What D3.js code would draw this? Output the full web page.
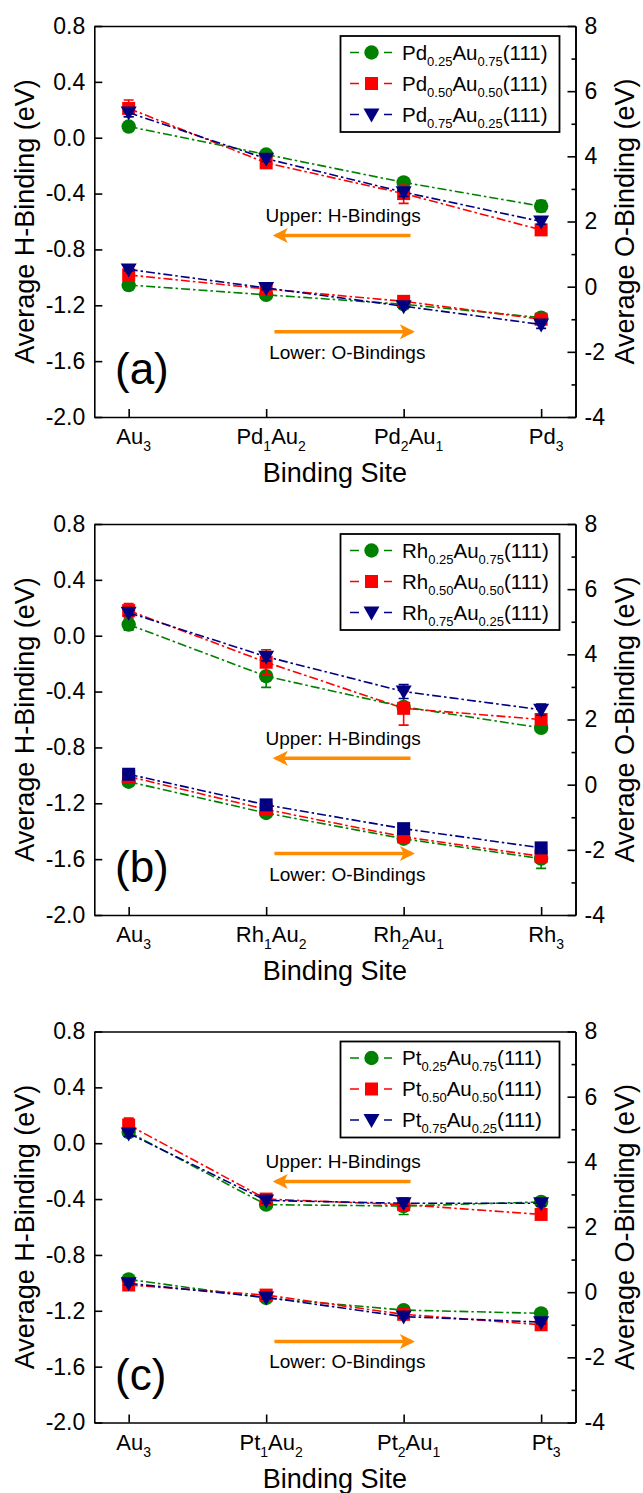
<!DOCTYPE html>
<html><head><meta charset="utf-8">
<script src="https://cdn.jsdelivr.net/npm/d3@7"></script>
<style>
body{margin:0;background:#fff}
svg{display:block}
text{font-family:"Liberation Sans",Arial,Helvetica,sans-serif;fill:#000}
</style>
</head><body>
<svg id="chart" width="643" height="1493"></svg>
<script>
// ---------------- DATA ----------------
const sitesPd = ["Au_3", "Pd_1Au_2", "Pd_2Au_1", "Pd_3"];
const sitesRh = ["Au_3", "Rh_1Au_2", "Rh_2Au_1", "Rh_3"];
const sitesPt = ["Au_3", "Pt_1Au_2", "Pt_2Au_1", "Pt_3"];

const legendPd = ["Pd_{0.25}Au_{0.75}(111)", "Pd_{0.50}Au_{0.50}(111)", "Pd_{0.75}Au_{0.25}(111)"];
const legendRh = ["Rh_{0.25}Au_{0.75}(111)", "Rh_{0.50}Au_{0.50}(111)", "Rh_{0.75}Au_{0.25}(111)"];
const legendPt = ["Pt_{0.25}Au_{0.75}(111)", "Pt_{0.50}Au_{0.50}(111)", "Pt_{0.75}Au_{0.25}(111)"];

const hTicks = [-2.0, -1.6, -1.2, -0.8, -0.4, 0.0, 0.4, 0.8];
const oTicks = [-4, -2, 0, 2, 4, 6, 8];
const oMinorTicks = [-3, -1, 1, 3, 5, 7];

// Panel (a) Pd-Au : H-binding (left axis, eV)
const hPd25 = [0.08, -0.12, -0.32, -0.49];
const hPd50 = [0.21, -0.18, -0.40, -0.66];
const hPd75 = [0.18, -0.15, -0.39, -0.60];
const hPd25Err = [0.02, 0.02, 0.02, 0.04];
const hPd50Err = [0.06, 0.03, 0.07, 0.03];
const hPd75Err = [0.03, 0.02, 0.03, 0.02];
// Panel (a) Pd-Au : O-binding (right axis, eV)
const oPd25 = [0.05, -0.25, -0.54, -0.95];
const oPd50 = [0.36, -0.07, -0.45, -1.00];
const oPd75 = [0.53, -0.04, -0.60, -1.16];
const oPd25Err = [0.05, 0.08, 0.05, 0.08];
const oPd50Err = [0.05, 0.05, 0.08, 0.05];
const oPd75Err = [0.05, 0.05, 0.05, 0.12];

// Panel (b) Rh-Au : H-binding
const hRh25 = [0.08, -0.29, -0.51, -0.66];
const hRh50 = [0.18, -0.19, -0.52, -0.60];
const hRh75 = [0.165, -0.15, -0.40, -0.53];
const hRh25Err = [0.04, 0.08, 0.03, 0.02];
const hRh50Err = [0.05, 0.09, 0.12, 0.03];
const hRh75Err = [0.02, 0.03, 0.05, 0.04];
// Panel (b) Rh-Au : O-binding
const oRh25 = [0.09, -0.87, -1.66, -2.27];
const oRh50 = [0.25, -0.76, -1.60, -2.20];
const oRh75 = [0.32, -0.62, -1.35, -1.94];
const oRh25Err = [0.05, 0.08, 0.08, 0.30];
const oRh50Err = [0.05, 0.05, 0.08, 0.08];
const oRh75Err = [0.05, 0.05, 0.08, 0.08];

// Panel (c) Pt-Au : H-binding
const hPt25 = [0.08, -0.44, -0.45, -0.42];
const hPt50 = [0.13, -0.40, -0.44, -0.51];
const hPt75 = [0.07, -0.41, -0.43, -0.43];
const hPt25Err = [0.02, 0.03, 0.06, 0.03];
const hPt50Err = [0.05, 0.02, 0.02, 0.02];
const hPt75Err = [0.02, 0.02, 0.02, 0.02];
// Panel (c) Pt-Au : O-binding
const oPt25 = [0.39, -0.18, -0.55, -0.65];
const oPt50 = [0.22, -0.09, -0.68, -1.00];
const oPt75 = [0.27, -0.16, -0.75, -0.92];
const oPt25Err = [0.05, 0.05, 0.05, 0.05];
const oPt50Err = [0.05, 0.05, 0.05, 0.05];
const oPt75Err = [0.05, 0.05, 0.05, 0.05];

const panelLabels = ["(a)", "(b)", "(c)"];
const upperNote = "Upper: H-Bindings";
const lowerNote = "Lower: O-Bindings";
const xTitle = "Binding Site";
const yLeftTitle = "Average H-Binding (eV)";
const yRightTitle = "Average O-Binding (eV)";

// ---------------- STYLE / LAYOUT ----------------
const colors = ["#008000", "#ff0000", "#000080"];
const orange = "#ff8c00";
const dash = "9,3,2.5,3";
const font = '"Liberation Sans", Arial, sans-serif';
const W = 643;
const plotL = 94.3, plotR = 575.5, plotH = 391;

const panels = [
  { top: 26, sites: sitesPd, legend: legendPd,
    h: [hPd25, hPd50, hPd75], hErr: [hPd25Err, hPd50Err, hPd75Err],
    o: [oPd25, oPd50, oPd75], oErr: [oPd25Err, oPd50Err, oPd75Err],
    oShapes: ["circle", "square", "triangle"],
    up: { arrowY: -0.70, textY: -0.60 }, low: { arrowY: -1.39, textY: -1.585 } },
  { top: 524, sites: sitesRh, legend: legendRh,
    h: [hRh25, hRh50, hRh75], hErr: [hRh25Err, hRh50Err, hRh75Err],
    o: [oRh25, oRh50, oRh75], oErr: [oRh25Err, oRh50Err, oRh75Err],
    oShapes: ["circle", "square", "square"],
    up: { arrowY: -0.878, textY: -0.783 }, low: { arrowY: -1.56, textY: -1.76 } },
  { top: 1031.5, sites: sitesPt, legend: legendPt,
    h: [hPt25, hPt50, hPt75], hErr: [hPt25Err, hPt50Err, hPt75Err],
    o: [oPt25, oPt50, oPt75], oErr: [oPt25Err, oPt50Err, oPt75Err],
    oShapes: ["circle", "square", "triangle"],
    up: { arrowY: -0.274, textY: -0.18 }, low: { arrowY: -1.42, textY: -1.61 } }
];
const hShapes = ["circle", "square", "triangle"];

const svg = d3.select("#chart");
svg.append("rect").attr("width", W).attr("height", 1493).attr("fill", "#fff");

const defs = svg.append("defs");
defs.append("marker").attr("id", "arrowhead")
  .attr("viewBox", "0 0 10 10").attr("refX", 8).attr("refY", 5)
  .attr("markerUnits", "userSpaceOnUse")
  .attr("markerWidth", 20).attr("markerHeight", 15).attr("orient", "auto")
  .append("path").attr("d", "M0,0 L10,5 L0,10 L2.5,5 Z").attr("fill", orange);

// rich text with subscripts: "Pd_{0.25}Au" or "Pd_1Au_2"
function richText(sel, str, mainSize, subSize, subDy) {
  const re = /_\{([^}]*)\}|_(.)|([^_]+)/g;
  let m, shift = 0;
  while ((m = re.exec(str)) !== null) {
    if (m[3] !== undefined) {
      sel.append("tspan").attr("font-size", mainSize).attr("dy", -shift).text(m[3]);
      shift = 0;
    } else {
      const s = m[1] !== undefined ? m[1] : m[2];
      sel.append("tspan").attr("font-size", subSize).attr("dy", subDy - shift).text(s);
      shift = subDy;
    }
  }
}

function markerPath(shape) {
  if (shape === "circle") return d3.symbol().type(d3.symbolCircle).size(Math.PI * 7.2 * 7.2)();
  if (shape === "square") return "M-6.5,-6.5H6.5V6.5H-6.5Z";
  return "M-8,-6L8,-6L0,8Z";
}

const x = d3.scaleLinear().domain([-0.25, 3.25]).range([plotL, plotR]);

panels.forEach((p, pi) => {
  const g = svg.append("g").attr("transform", `translate(0,${p.top})`);
  const yL = d3.scaleLinear().domain([-2.0, 0.8]).range([plotH, 0]);
  const yR = d3.scaleLinear().domain([-4, 8]).range([plotH, 0]);

  // ---- series ----
  const drawSeries = (vals, errs, y, color, shape) => {
    const pts = vals.map((v, i) => [x(i), y(v)]);
    g.append("path").attr("d", d3.line()(pts)).attr("fill", "none")
      .attr("stroke", color).attr("stroke-width", 1.6).attr("stroke-dasharray", dash);
    vals.forEach((v, i) => {
      const e = errs[i];
      if (e > 0) {
        const xi = x(i), y1 = y(v + e), y2 = y(v - e);
        g.append("path").attr("d", `M${xi},${y1}V${y2}M${xi - 5},${y1}H${xi + 5}M${xi - 5},${y2}H${xi + 5}`)
          .attr("stroke", color).attr("stroke-width", 1.6).attr("fill", "none");
      }
    });
    vals.forEach((v, i) => {
      g.append("path").attr("d", markerPath(shape))
        .attr("transform", `translate(${x(i)},${y(v)})`).attr("fill", color);
    });
  };
  [0, 1, 2].forEach(s => drawSeries(p.o[s], p.oErr[s], yR, colors[s], p.oShapes[s]));
  [0, 1, 2].forEach(s => drawSeries(p.h[s], p.hErr[s], yL, colors[s], hShapes[s]));

  // ---- axes ----
  const styleAxis = a => {
    a.selectAll("path,line").attr("stroke", "#000").attr("stroke-width", 1.6);
    a.selectAll("text").attr("font-size", 23).attr("font-family", font).attr("fill", "#000");
    a.attr("font-family", font);
  };
  const aL = g.append("g").attr("transform", `translate(${plotL},0)`)
    .call(d3.axisLeft(yL).tickValues(hTicks).tickSize(-8).tickSizeOuter(0).tickPadding(9)
      .tickFormat(d => d.toFixed(1)));
  styleAxis(aL);
  const aR = g.append("g").attr("transform", `translate(${plotR},0)`)
    .call(d3.axisRight(yR).tickValues(oTicks).tickSize(-8).tickSizeOuter(0).tickPadding(9)
      .tickFormat(d => String(d)));
  styleAxis(aR);
  const aR2 = g.append("g").attr("transform", `translate(${plotR},0)`)
    .call(d3.axisRight(yR).tickValues(oMinorTicks).tickSize(-4).tickSizeOuter(0).tickFormat(""));
  styleAxis(aR2);
  const aB = g.append("g").attr("transform", `translate(0,${plotH})`)
    .call(d3.axisBottom(x).tickValues([0, 1, 2, 3]).tickSize(-8).tickSizeOuter(0).tickFormat(""));
  styleAxis(aB);
  const aT = g.append("g")
    .call(d3.axisTop(x).tickValues([]).tickSizeOuter(0));
  styleAxis(aT);

  // category labels
  p.sites.forEach((s, i) => {
    const t = g.append("text").attr("x", x(i) + 5).attr("y", plotH + 27)
      .attr("text-anchor", "middle");
    richText(t, s, 22, 14, 7);
  });
  g.append("text").attr("x", (plotL + plotR) / 2).attr("y", plotH + 65)
    .attr("text-anchor", "middle").attr("font-size", 27).text(xTitle);

  // y titles
  g.append("text").attr("transform", `translate(34,${plotH / 2}) rotate(-90)`)
    .attr("text-anchor", "middle").attr("font-size", 27).text(yLeftTitle);
  g.append("text").attr("transform", `translate(634,${plotH / 2}) rotate(-90)`)
    .attr("text-anchor", "middle").attr("font-size", 27).text(yRightTitle);

  // legend
  const lg = g.append("g");
  lg.append("rect").attr("x", 340.5).attr("y", 10).attr("width", 219).attr("height", 96)
    .attr("fill", "#fff").attr("stroke", "#000").attr("stroke-width", 1.8);
  p.legend.forEach((lab, s) => {
    const cy = 26.5 + s * 31;
    lg.append("path").attr("d", `M350,${cy}H359M384,${cy}H392`)
      .attr("stroke", colors[s]).attr("stroke-width", 1.6);
    lg.append("path").attr("d", markerPath(hShapes[s]))
      .attr("transform", `translate(371.5,${cy})`).attr("fill", colors[s]);
    const t = lg.append("text").attr("x", 402).attr("y", cy + 7);
    richText(t, lab, 20.5, 13, 6);
  });

  // annotations
  g.append("line").attr("x1", x(2.05)).attr("x2", x(1.07))
    .attr("y1", yL(p.up.arrowY)).attr("y2", yL(p.up.arrowY))
    .attr("stroke", orange).attr("stroke-width", 3.5).attr("marker-end", "url(#arrowhead)");
  g.append("text").attr("x", x(1.56)).attr("y", yL(p.up.textY))
    .attr("text-anchor", "middle").attr("font-size", 19).text(upperNote);
  g.append("line").attr("x1", x(1.06)).attr("x2", x(2.06))
    .attr("y1", yL(p.low.arrowY)).attr("y2", yL(p.low.arrowY))
    .attr("stroke", orange).attr("stroke-width", 3.5).attr("marker-end", "url(#arrowhead)");
  g.append("text").attr("x", x(1.59)).attr("y", yL(p.low.textY))
    .attr("text-anchor", "middle").attr("font-size", 19).text(lowerNote);

  g.append("text").attr("x", 115).attr("y", 358).attr("font-size", 44).text(panelLabels[pi]);
});
</script>
</body></html>
